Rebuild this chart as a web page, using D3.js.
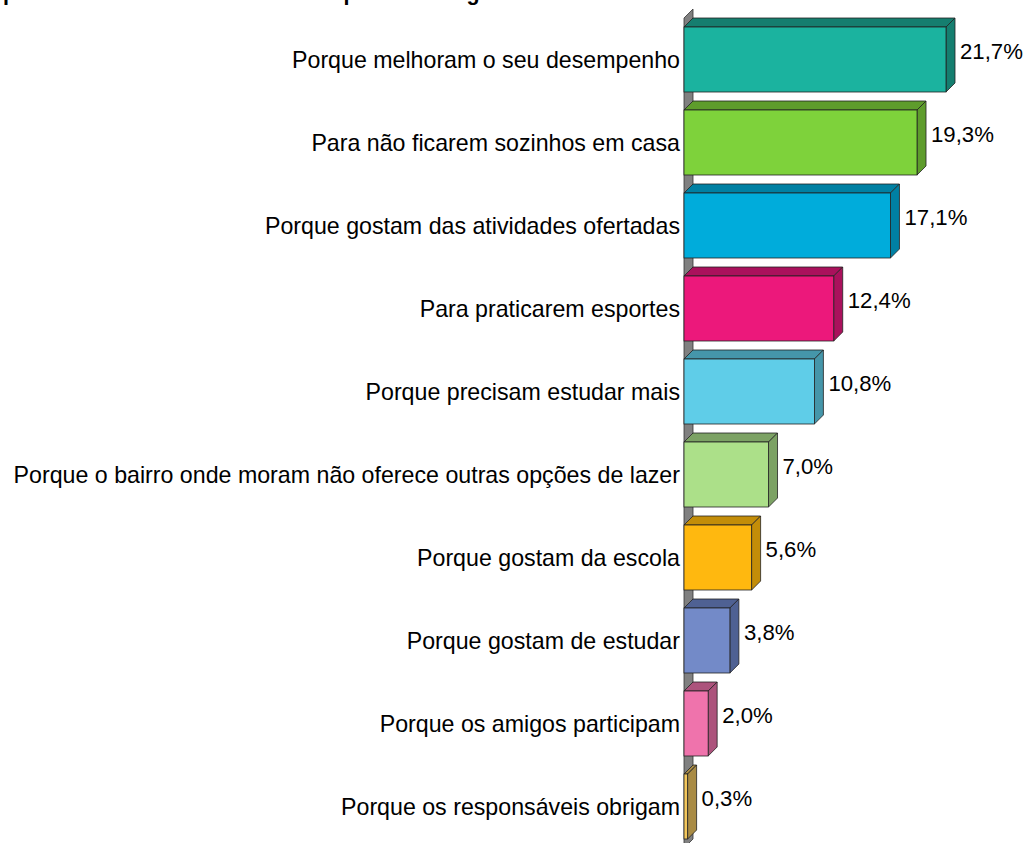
<!DOCTYPE html>
<html>
<head>
<meta charset="utf-8">
<script src="https://cdn.jsdelivr.net/npm/d3@7"></script>
<style>
  html, body { margin: 0; padding: 0; background: #fff; }
  svg { display: block; }
  text { font-family: "Liberation Sans", Arial, sans-serif; }
</style>
</head>
<body>
<svg id="chart" width="1026" height="843"></svg>
<script>
const titleText = "pais relatam motivos de estar no período integral";
const categories = [
  "Porque melhoram o seu desempenho",
  "Para não ficarem sozinhos em casa",
  "Porque gostam das atividades ofertadas",
  "Para praticarem esportes",
  "Porque precisam estudar mais",
  "Porque o bairro onde moram não oferece outras opções de lazer",
  "Porque gostam da escola",
  "Porque gostam de estudar",
  "Porque os amigos participam",
  "Porque os responsáveis obrigam"
];
const values = [21.7, 19.3, 17.1, 12.4, 10.8, 7.0, 5.6, 3.8, 2.0, 0.3];
const valueLabels = ["21,7%", "19,3%", "17,1%", "12,4%", "10,8%", "7,0%", "5,6%", "3,8%", "2,0%", "0,3%"];
const frontColors = ["#1BB39F", "#7ED23B", "#00ACDB", "#EC187B", "#5FCDE8", "#ACE089", "#FFB80F", "#738AC8", "#EF73AC", "#F3C75C"];
const darkColors  = ["#157E6F", "#5E9C2C", "#0080A3", "#AA115C", "#4596AA", "#7CA264", "#C38D08", "#4F6193", "#AC537C", "#A98B44"];

const svg = d3.select("#chart");
const depth = 9;
const x0 = 684;

const x = d3.scaleLinear().domain([0, 25]).range([x0, x0 + 25 * (262 / 21.7)]);
const y = d3.scaleBand().domain(categories).range([18, 848])
  .paddingInner(18 / 83).paddingOuter(9 / 83);
const bw = y.bandwidth();

// title (cut off at the top edge, as in the reference)
svg.append("text")
  .attr("x", 3).attr("y", -0.5)
  .attr("font-size", 21.5).attr("font-weight", "bold")
  .attr("fill", "#000")
  .text(titleText);

// left wall
svg.append("polygon")
  .attr("points", [[x0, 848], [x0, 18], [x0 + depth, 18 - depth], [x0 + depth, 848 - depth]].map(p => p.join(",")).join(" "))
  .attr("fill", "#808080").attr("stroke", "#333").attr("stroke-width", 0.8);

const g = svg.append("g");
const bars = g.selectAll("g.bar").data(categories).join("g").attr("class", "bar");

bars.each(function(c, i) {
  const sel = d3.select(this);
  const top = y(c), bot = top + bw;
  const xe = x(values[i]);
  const pts = a => a.map(p => p.join(",")).join(" ");
  sel.append("polygon")
    .attr("points", pts([[x0, top], [x0 + depth, top - depth], [xe + depth, top - depth], [xe, top]]))
    .attr("fill", darkColors[i]).attr("stroke", "#222").attr("stroke-width", 0.8).attr("stroke-linejoin", "round");
  sel.append("polygon")
    .attr("points", pts([[xe, top], [xe + depth, top - depth], [xe + depth, bot - depth], [xe, bot]]))
    .attr("fill", darkColors[i]).attr("stroke", "#222").attr("stroke-width", 0.8).attr("stroke-linejoin", "round");
  sel.append("rect")
    .attr("x", x0).attr("y", top).attr("width", xe - x0).attr("height", bw)
    .attr("fill", frontColors[i]).attr("stroke", "#222").attr("stroke-width", 0.8);
  sel.append("text")
    .attr("x", xe + depth + 5).attr("y", top + bw / 2 - 8)
    .attr("dominant-baseline", "central")
    .attr("font-size", 22.2).attr("fill", "#000")
    .text(valueLabels[i]);
  sel.append("text")
    .attr("x", x0 - 4).attr("y", top + bw / 2)
    .attr("dominant-baseline", "central")
    .attr("text-anchor", "end")
    .attr("font-size", 23.2).attr("fill", "#000")
    .text(c);
});
</script>
</body>
</html>
